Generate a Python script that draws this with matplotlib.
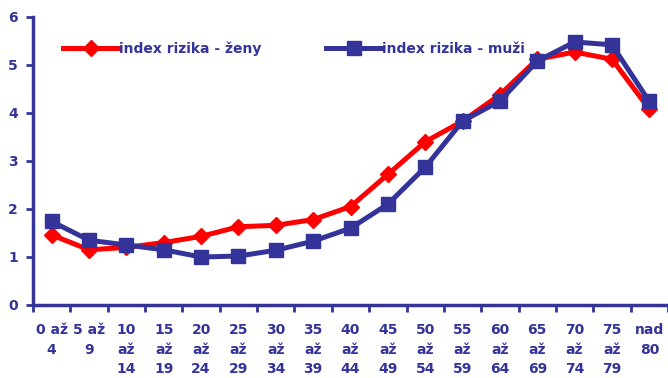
import matplotlib.pyplot as plt

plt.rcParams["font.family"] = ["DejaVu Sans"]
plt.rcParams["font.weight"] = "bold"

categories = ["0 až\n4", "5 až\n9", "10\naž\n14", "15\naž\n19", "20\naž\n24",
              "25\naž\n29", "30\naž\n34", "35\naž\n39", "40\naž\n44", "45\naž\n49",
              "50\naž\n54", "55\naž\n59", "60\naž\n64", "65\naž\n69", "70\naž\n74",
              "75\naž\n79", "nad\n80"]
zeny = [1.46, 1.15, 1.20, 1.30, 1.43, 1.63, 1.66, 1.78, 2.05, 2.72,
        3.40, 3.83, 4.38, 5.12, 5.27, 5.12, 4.08]
muzi = [1.74, 1.35, 1.25, 1.15, 1.00, 1.02, 1.14, 1.33, 1.60, 2.10,
        2.87, 3.83, 4.25, 5.08, 5.48, 5.42, 4.24]

navy = "#333399"
red = "#FF0000"

fig = plt.figure(figsize=(6.68, 3.78), dpi=100)
ax = fig.add_axes([33 / 668, 73 / 378, 635 / 668, 288 / 378])

x = list(range(len(categories)))
ax.plot(x, zeny, color=red, linewidth=3.6, marker="D", markersize=8,
        label="index rizika - ženy", zorder=3)
ax.plot(x, muzi, color=navy, linewidth=3.6, marker="s", markersize=10,
        label="index rizika - muži", zorder=4)

ax.set_xlim(-0.5, len(categories) - 0.5)
ax.set_ylim(0, 6)
ax.set_yticks(range(7))

# labels at category centres, tick marks between categories
ax.set_xticks(x)
ax.set_xticklabels(categories, color=navy, fontsize=10, linespacing=1.5)
ax.tick_params(axis="x", which="major", length=0, pad=13)
ax.set_xticks([i - 0.5 for i in range(len(categories) + 1)], minor=True)
ax.tick_params(axis="x", which="minor", length=5, width=2, color=navy, direction="out")
ax.tick_params(axis="y", length=5, width=2, color=navy, labelcolor=navy,
               labelsize=10, pad=6)

for s in ["top", "right"]:
    ax.spines[s].set_visible(False)
for s in ["left", "bottom"]:
    ax.spines[s].set_color(navy)
    ax.spines[s].set_linewidth(2.5)

leg = ax.legend(loc="upper left", bbox_to_anchor=(0.028, 0.958), ncol=2, frameon=False,
                handlelength=4.0, handletextpad=0.0, columnspacing=4.7,
                fontsize=10)
for t in leg.get_texts():
    t.set_color(navy)

fig.savefig("out.png", dpi=100)
